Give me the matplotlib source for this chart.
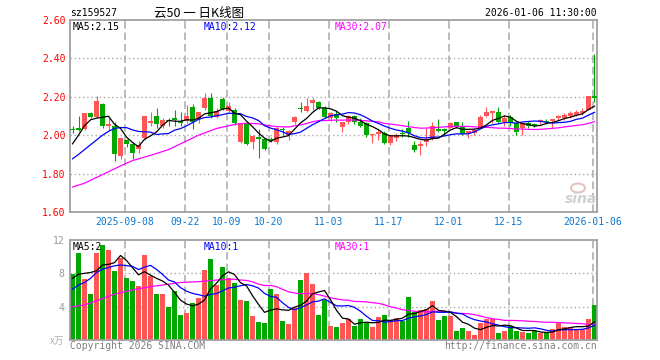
import numpy as np
import pandas as pd
import matplotlib
matplotlib.use('Agg')
import matplotlib.pyplot as plt
from matplotlib.patches import Ellipse

# 云50 日K线, 88 个交易日 (2025-08-26 ~ 2026-01-06)
opens = [2.032, 2.036, 2.03, 2.115, 2.095, 2.165, 2.05, 2.047, 1.893, 1.974,
         1.953, 1.93, 1.983, 2.068, 2.10, 2.05, 2.078, 2.09, 2.072, 2.075,
         2.145, 2.083, 2.14, 2.196, 2.096, 2.19, 2.126, 2.132, 1.965, 2.065,
         1.965, 1.988, 1.979, 1.977, 1.965, 2.032, 2.0, 2.067, 2.14, 2.126,
         2.167, 2.175, 2.14, 2.091, 2.109, 2.044, 2.067, 2.10, 2.067, 2.061,
         2.0, 2.004, 2.009, 1.961, 1.988, 2.012, 2.035, 1.951, 1.948, 1.965,
         1.982, 2.03, 2.03, 2.039, 2.067, 2.044, 2.009, 2.009, 2.039, 2.102,
         2.12, 2.123, 2.07, 2.096, 2.061, 2.035, 2.061, 2.058, 2.067, 2.072,
         2.074, 2.094, 2.091, 2.102, 2.105, 2.12, 2.132, 2.205]
highs = [2.05, 2.10, 2.115, 2.12, 2.205, 2.17, 2.09, 2.07, 1.988, 1.98,
         1.963, 1.97, 2.10, 2.12, 2.14, 2.09, 2.09, 2.13, 2.12, 2.158,
         2.16, 2.12, 2.22, 2.22, 2.14, 2.20, 2.175, 2.14, 2.065, 2.07,
         2.0, 2.03, 1.985, 1.99, 2.045, 2.045, 2.025, 2.10, 2.175, 2.195,
         2.195, 2.18, 2.15, 2.12, 2.125, 2.07, 2.107, 2.105, 2.09, 2.07,
         2.006, 2.03, 2.02, 2.0, 2.01, 2.03, 2.075, 1.97, 1.968, 2.04,
         2.07, 2.085, 2.035, 2.07, 2.07, 2.067, 2.02, 2.035, 2.105, 2.145,
         2.125, 2.145, 2.105, 2.105, 2.07, 2.065, 2.075, 2.065, 2.084, 2.084,
         2.084, 2.105, 2.114, 2.126, 2.133, 2.14, 2.205, 2.425]
lows = [2.01, 2.02, 2.025, 2.09, 2.09, 2.04, 2.026, 1.864, 1.877, 1.94,
        1.875, 1.905, 1.975, 2.047, 2.04, 2.04, 2.05, 2.05, 2.05, 2.063,
        2.03, 2.065, 2.13, 2.09, 2.09, 2.13, 2.12, 2.055, 1.96, 1.95,
        1.926, 1.88, 1.925, 1.963, 1.955, 2.0, 1.975, 2.06, 2.123, 2.12,
        2.13, 2.135, 2.09, 2.075, 2.07, 2.017, 2.06, 2.06, 2.045, 1.99,
        1.96, 1.975, 1.955, 1.95, 1.97, 1.99, 1.99, 1.91, 1.895, 1.944,
        1.975, 2.015, 2.0, 2.035, 2.04, 2.0, 1.985, 2.0, 2.035, 2.095,
        2.065, 2.065, 2.05, 2.05, 2.0, 2.0, 2.04, 2.044, 2.06, 2.056,
        2.035, 2.079, 2.08, 2.09, 2.1, 2.105, 2.13, 2.175]
closes = [2.028, 2.028, 2.114, 2.094, 2.18, 2.05, 2.056, 1.904, 1.988, 1.953,
          1.909, 1.947, 2.10, 2.072, 2.058, 2.08, 2.075, 2.08, 2.068, 2.10,
          2.07, 2.12, 2.196, 2.10, 2.125, 2.137, 2.15, 2.061, 2.061, 1.956,
          1.995, 1.984, 1.93, 1.972, 2.039, 2.028, 2.02, 2.096, 2.137, 2.154,
          2.184, 2.14, 2.096, 2.114, 2.091, 2.067, 2.10, 2.07, 2.049, 2.0,
          2.005, 2.017, 1.961, 2.0, 2.0, 2.008, 2.009, 1.921, 1.952, 1.982,
          2.049, 2.02, 2.022, 2.063, 2.044, 2.004, 2.02, 2.026, 2.095, 2.123,
          2.123, 2.07, 2.091, 2.061, 2.017, 2.061, 2.049, 2.049, 2.079, 2.07,
          2.084, 2.096, 2.105, 2.114, 2.12, 2.123, 2.205, 2.195]
volumes = [7.9, 10.4, 7.3, 5.5, 10.4, 11.4, 10.8, 8.3, 9.8, 7.4,
           7.1, 6.5, 10.2, 7.7, 5.5, 5.5, 4.0, 5.9, 3.0, 3.2,
           4.4, 5.0, 8.4, 9.7, 6.6, 8.8, 7.4, 6.8, 4.8, 4.7,
           2.9, 2.2, 2.0, 6.1, 5.5, 2.3, 1.9, 3.9, 7.2, 8.0,
           6.7, 3.0, 4.8, 1.7, 1.6, 2.0, 2.5, 1.7, 2.5, 2.0,
           1.6, 2.8, 3.0, 2.4, 2.6, 2.3, 5.2, 3.4, 3.6, 3.7,
           4.7, 2.4, 2.9, 2.9, 1.1, 1.4, 1.1, 0.6, 2.0, 2.5,
           2.5, 0.8, 1.1, 1.7, 1.1, 1.0, 0.8, 1.1, 0.8, 0.8,
           1.3, 2.2, 1.6, 1.6, 1.3, 1.3, 2.5, 4.2]

tick_idx = [9, 19, 26, 33, 43, 53, 63, 73, 87]
tick_labels = ['2025-09-08', '09-22', '10-09', '10-20', '11-03',
               '11-17', '12-01', '12-15', '2026-01-06']

# 图左端之前的数据看不到, 均线开头几段直接从图上读
ma5_head_x = [0, 1, 2, 3]
ma5_head_y = [1.955, 2.0, 2.05, 2.08]
ma10_head_x = [0, 1, 2, 3, 4, 5, 6, 7, 8]
ma10_head_y = [1.877, 1.90, 1.925, 1.95, 1.975, 2.0, 2.02, 2.035, 2.04]
ma30_head_x = [0, 2, 4, 6, 8, 10, 13, 16, 18, 21, 24, 27, 28]
ma30_head_y = [1.73, 1.75, 1.78, 1.81, 1.84, 1.868, 1.895, 1.925, 1.955,
               2.0, 2.035, 2.056, 2.06]

vma5_head_x = [0, 1, 2, 3]
vma5_head_y = [7.4, 7.9, 8.0, 8.1]
vma10_head_x = [0, 1, 2, 3, 4, 5, 6, 7, 8]
vma10_head_y = [6.1, 6.6, 6.9, 7.4, 8.1, 8.5, 8.7, 8.9, 9.0]
vma30_head_x = [0, 2, 4, 7, 10, 13, 16, 18, 21, 24, 27, 28]
vma30_head_y = [4.0, 4.2, 4.7, 5.5, 6.0, 6.4, 6.7, 6.9, 7.0, 7.2, 7.3, 7.2]

RED = '#ff5555'
GREEN = '#00a800'
GRID = '#aaaaaa'
W, H = 660, 360


def ma_line(values, n, head_x, head_y):
    s = pd.Series(values).rolling(n).mean()
    x = list(head_x) + list(range(n - 1, len(values)))
    y = list(head_y) + list(s.iloc[n - 1:])
    return x, y


def px(x, y):
    return x / W, 1 - y / H


def style_axes(ax):
    for sp in ax.spines.values():
        sp.set_color('#a0a0a0')
        sp.set_linewidth(1.3)
    ax.set_xlim(-0.42, len(closes) - 0.58)
    ax.tick_params(length=0)
    for i in tick_idx:
        ax.axvline(i - 0.3, color=GRID, lw=1.1, dashes=(5, 2.5), zorder=0)


plt.rcParams['font.family'] = ['DejaVu Sans Mono', 'Noto Sans CJK SC']
MONO = 7

fig = plt.figure(figsize=(6.6, 3.6), dpi=100)
ax1 = fig.add_axes([70 / W, 1 - 212 / H, 527 / W, 192 / H])
ax2 = fig.add_axes([70 / W, 1 - 340 / H, 527 / W, 100 / H])

x = np.arange(len(closes))
o = np.array(opens)
c = np.array(closes)
colors = np.where(c >= o, RED, GREEN)

# K 线
style_axes(ax1)
ax1.set_ylim(1.6, 2.6)
for lv in [1.8, 2.0, 2.2, 2.4]:
    ax1.axhline(lv, color=GRID, lw=1, ls=(0, (1, 2)), zorder=0)
ax1.vlines(x, lows, highs, color=colors, lw=0.8, zorder=2)
body = np.maximum(np.abs(c - o), 0.008)
bottom = (o + c) / 2 - body / 2
ax1.bar(x, body, bottom=bottom, width=0.83, color=colors, linewidth=0, zorder=3)

ma5 = ma_line(closes, 5, ma5_head_x, ma5_head_y)
ma10 = ma_line(closes, 10, ma10_head_x, ma10_head_y)
ma30 = ma_line(closes, 30, ma30_head_x, ma30_head_y)
ax1.plot(ma30[0], ma30[1], color='#ff00ff', lw=0.9, zorder=4)
ax1.plot(ma10[0], ma10[1], color='#0000ff', lw=0.9, zorder=4)
ax1.plot(ma5[0], ma5[1], color='black', lw=0.9, zorder=5)

ax1.set_yticks([1.6, 1.8, 2.0, 2.2, 2.4, 2.6])
ax1.set_yticklabels(['%.2f' % v for v in [1.6, 1.8, 2.0, 2.2, 2.4, 2.6]],
                    color='#ff0000', fontsize=MONO)
ax1.tick_params(axis='y', pad=3)
ax1.set_xticks([i - 0.3 for i in tick_idx])
ax1.set_xticklabels(tick_labels, color='#0a78d2', fontsize=MONO)
ax1.tick_params(axis='x', pad=3.5)

fig.text(*px(73, 27), 'MA5:%.2f' % ma5[1][-1], fontsize=MONO, va='center')
fig.text(*px(204, 27), 'MA10:%.2f' % ma10[1][-1], fontsize=MONO, va='center', color='#0000ff')
fig.text(*px(335, 27), 'MA30:%.2f' % ma30[1][-1], fontsize=MONO, va='center', color='#ff00ff')

# 成交量
style_axes(ax2)
ax2.set_ylim(0, 12)
for lv in [4, 8]:
    ax2.axhline(lv, color=GRID, lw=1, ls=(0, (1, 2)), zorder=0)
ax2.bar(x, volumes, width=0.83, color=colors, linewidth=0, zorder=2)
v5 = ma_line(volumes, 5, vma5_head_x, vma5_head_y)
v10 = ma_line(volumes, 10, vma10_head_x, vma10_head_y)
v30 = ma_line(volumes, 30, vma30_head_x, vma30_head_y)
ax2.plot(v30[0], v30[1], color='#ff00ff', lw=0.9, zorder=4)
ax2.plot(v10[0], v10[1], color='#0000ff', lw=0.9, zorder=4)
ax2.plot(v5[0], v5[1], color='black', lw=0.9, zorder=5)
ax2.set_yticks([4, 8, 12])
ax2.set_yticklabels(['4', '8', '12'], color='#999999', fontsize=MONO)
ax2.tick_params(axis='y', pad=4)
ax2.set_xticks([])

fig.text(*px(73, 247), 'MA5:%d' % int(v5[1][-1]), fontsize=MONO, va='center')
fig.text(*px(204, 247), 'MA10:%d' % int(v10[1][-1]), fontsize=MONO, va='center', color='#0000ff')
fig.text(*px(335, 247), 'MA30:%d' % int(v30[1][-1]), fontsize=MONO, va='center', color='#ff00ff')
fig.text(*px(64, 341), 'x万', fontsize=7, va='center', ha='right', color='#b0b0b0',
         family=['Noto Sans CJK SC', 'DejaVu Sans'])

# 标题与版权
fig.text(*px(70, 13), 'sz159527', fontsize=MONO, va='center')
fig.text(*px(199, 13), '云50 一 日K线图', fontsize=9, va='center', ha='center',
         family=['Noto Sans CJK SC', 'DejaVu Sans'])
fig.text(*px(597, 13), '2026-01-06 11:30:00', fontsize=MONO, va='center', ha='right')
fig.text(*px(70, 346), 'Copyright 2026 SINA.COM', fontsize=MONO, va='center', color='#808080')
fig.text(*px(597, 346), 'http://finance.sina.com.cn', fontsize=MONO, va='center',
         ha='right', color='#808080')

# 水印 logo
fig.text(*px(581, 199), 'sina', fontsize=10, va='center', ha='center', color='#d0d0d0',
         fontweight='bold', style='italic', family='DejaVu Sans')
fig.patches.append(Ellipse(px(578, 188), 14 / W, 9 / H, transform=fig.transFigure,
                           fill=False, ec='#e2c4c4', lw=1.5))

fig.savefig('out.png', dpi=100)
